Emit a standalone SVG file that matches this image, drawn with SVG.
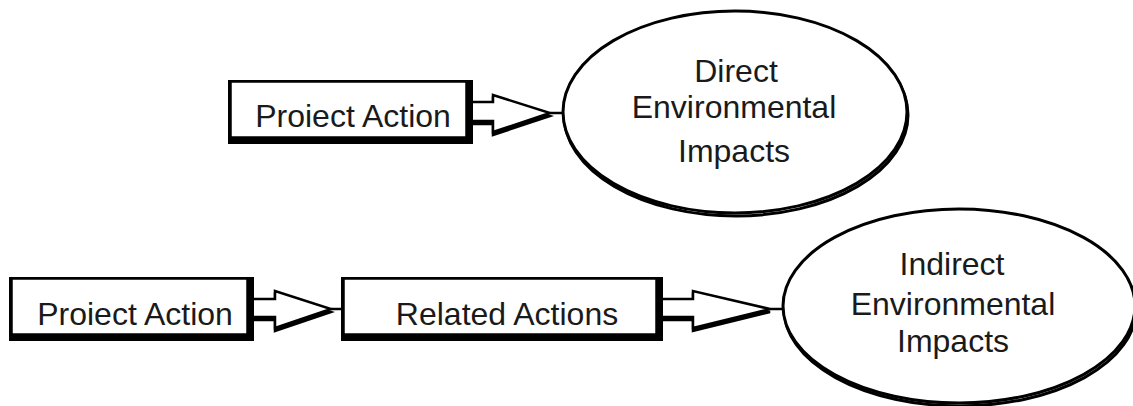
<svg xmlns="http://www.w3.org/2000/svg" width="1133" height="406" viewBox="0 0 1133 406">
<style>
.bg{fill:#ffffff}
.shadow{fill:#000000}
.box{fill:#ffffff;stroke:#000000;stroke-width:2.5}
.ell{fill:#ffffff;stroke:#000000;stroke-width:3}
.ellsh{fill:none;stroke:#000000;stroke-width:3}
.arr{fill:#ffffff;stroke:#000000;stroke-width:2.5;stroke-linejoin:miter}
.arrsh{fill:#000000;stroke:#000000;stroke-width:2.5}
.ln{stroke:#000000;stroke-width:2.5;fill:none}
.lbl{font-family:"Liberation Sans",Arial,sans-serif;font-size:32px;fill:#1a1a1a;text-anchor:middle}
</style>
<rect class="bg" x="0" y="0" width="1133" height="406"/>
<g id="connectors">
  <g id="arrow-top">
    <polygon class="arrsh" points="472,105 493,105 493,98 550,116 493,135 493,124 472,124"/>
    <polygon class="arr" points="470,102 493,102 493,95 550,113 493,132 493,121 470,121"/>
    <line class="ln" x1="550" y1="113" x2="563" y2="113"/>
  </g>
  <g id="arrow-bottom-1">
    <polygon class="arrsh" points="254,302 275,302 275,294 331,312 275,331 275,320 254,320"/>
    <polygon class="arr" points="252,299 275,299 275,291 331,309 275,328 275,317 252,317"/>
    <line class="ln" x1="331" y1="309" x2="342" y2="309"/>
  </g>
  <g id="arrow-bottom-2">
    <polygon class="arrsh" points="663,302 693,302 693,294 770,312 693,331 693,320 663,320"/>
    <polygon class="arr" points="661,299 693,299 693,291 770,309 693,328 693,317 661,317"/>
    <line class="ln" x1="770" y1="309" x2="784" y2="309"/>
  </g>
</g>
<g id="node-project-action-1">
  <rect class="shadow" x="228" y="80" width="245" height="64"/>
  <rect class="box" x="230.5" y="81.5" width="236" height="56"/>
  <text class="lbl" x="353" y="127">Proiect Action</text>
</g>
<g id="node-direct-impacts">
  <ellipse class="ellsh" cx="736" cy="115" rx="172" ry="101"/>
  <ellipse class="ell" cx="735" cy="112" rx="172" ry="101"/>
  <text class="lbl" x="736" y="82">Direct</text>
  <text class="lbl" x="734" y="118">Environmental</text>
  <text class="lbl" x="734" y="162">Impacts</text>
</g>
<g id="node-project-action-2">
  <rect class="shadow" x="9" y="277" width="245" height="64"/>
  <rect class="box" x="11.5" y="278.5" width="236" height="56"/>
  <text class="lbl" x="135" y="325">Proiect Action</text>
</g>
<g id="node-related-actions">
  <rect class="shadow" x="341" y="277" width="322" height="64"/>
  <rect class="box" x="343.5" y="278.5" width="313" height="56"/>
  <text class="lbl" x="507" y="325">Related Actions</text>
</g>
<g id="node-indirect-impacts">
  <ellipse class="ellsh" cx="960" cy="309" rx="176" ry="97"/>
  <ellipse class="ell" cx="959" cy="306" rx="176" ry="97"/>
  <text class="lbl" x="952" y="275">Indirect</text>
  <text class="lbl" x="953" y="315">Environmental</text>
  <text class="lbl" x="953" y="352">Impacts</text>
</g>
</svg>
